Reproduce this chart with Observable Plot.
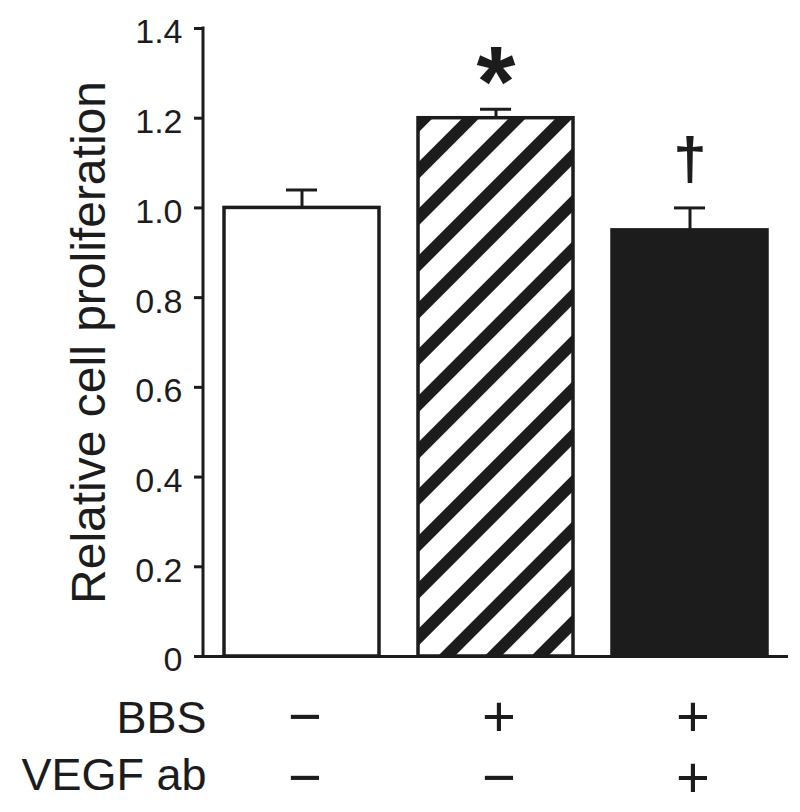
<!DOCTYPE html>
<html><head><meta charset="utf-8">
<script src="https://cdn.jsdelivr.net/npm/d3@7"></script>
<script src="https://cdn.jsdelivr.net/npm/@observablehq/plot@0.6"></script>
<style>html,body{margin:0;padding:0;background:#fff;}</style>
</head><body><div id="chart"></div>
<script>
// ---- data ----
const categories = ["Control", "BBS", "BBS + VEGF ab"];
const values = [1.0, 1.2, 0.95];
const errors = [0.04, 0.02, 0.05];
const sigMarks = ["", "*", "\u2020"];
const yTicks = [0, 0.2, 0.4, 0.6, 0.8, 1.0, 1.2, 1.4];
const yTickLabels = ["0", "0.2", "0.4", "0.6", "0.8", "1.0", "1.2", "1.4"];
const yLabel = "Relative cell proliferation";
const rowLabels = ["BBS", "VEGF ab"];
const bbsSigns = ["\u2212", "+", "+"];
const vegfSigns = ["\u2212", "\u2212", "+"];

// ---- styles ----
const ink = "#1c1c1c";
const barFills = ["white", "url(#hatch)", ink];
const font = "'Liberation Sans', Arial, Helvetica, sans-serif";

const idx = d3.range(categories.length);
const xOf = i => categories[i];
const topOf = i => values[i] + errors[i];

const hatchDefs = () => {
  const defs = d3.create("svg:defs");
  const p = defs.append("pattern").attr("id", "hatch")
    .attr("patternUnits", "userSpaceOnUse")
    .attr("width", 33).attr("height", 33)
    .attr("patternTransform", "rotate(45) translate(14.5 0)");
  p.append("rect").attr("width", 33).attr("height", 33).attr("fill", "white");
  p.append("rect").attr("width", 12).attr("height", 33).attr("fill", ink);
  return defs.node();
};

const yAxisLine = (index, scales, vals, dims) => {
  const x = dims.marginLeft;
  return d3.create("svg:path")
    .attr("d", `M${x},${scales.y(yTicks[0])}V${scales.y(yTicks[yTicks.length - 1])}`)
    .attr("stroke", ink).attr("stroke-width", 3).attr("stroke-linecap", "square")
    .attr("fill", "none").node();
};

const chart = Plot.plot({
  width: 800, height: 812,
  marginLeft: 203, marginRight: 12, marginTop: 28, marginBottom: 156,
  style: {fontFamily: font, color: ink, background: "white", overflow: "visible"},
  x: {type: "band", domain: categories, paddingInner: 0.2, paddingOuter: 0.103, axis: null},
  y: {domain: [0, 1.4]},
  color: {type: "identity"},
  marks: [
    hatchDefs,
    Plot.barY(idx, {x: xOf, y: i => values[i], fill: i => barFills[i], stroke: ink, strokeWidth: 3.5}),
    Plot.ruleX(idx, {x: xOf, y1: i => values[i], y2: topOf, stroke: ink, strokeWidth: 3}),
    Plot.tickY(idx, {x: xOf, y: topOf, stroke: ink, strokeWidth: 3, insetLeft: 62, insetRight: 62}),
    Plot.ruleY([0], {stroke: ink, strokeWidth: 3}),
    yAxisLine,
    Plot.axisY({ticks: yTicks, tickSize: 9, fill: "none", stroke: ink, strokeWidth: 3, label: null, tickFormat: () => ""}),
    Plot.axisY({ticks: yTicks, tickSize: 0, tickPadding: 21, tickFormat: d => yTickLabels[yTicks.indexOf(d)],
      fontSize: 34, dy: 4, fill: ink, label: null}),
    Plot.text([yLabel], {frameAnchor: "left", textAnchor: "middle", lineAnchor: "middle", rotate: -90, dx: -114, fontSize: 48, fill: ink}),
    Plot.text(idx, {filter: i => sigMarks[i] === "*", x: xOf, y: topOf, text: i => sigMarks[i],
      fontSize: 100, fontWeight: "bold", dy: -25, fill: ink}),
    Plot.text(idx, {filter: i => sigMarks[i] === "\u2020", x: xOf, y: topOf, text: i => sigMarks[i],
      fontSize: 60, fontWeight: "bold", dy: -48, fill: ink}),
    Plot.text(idx, {x: xOf, frameAnchor: "bottom", text: i => bbsSigns[i], dy: 79, dx: 3, fontSize: 58, fill: ink}),
    Plot.text(idx, {x: xOf, frameAnchor: "bottom", text: i => vegfSigns[i], dy: 140, dx: 3, fontSize: 58, fill: ink}),
    Plot.text([rowLabels[0]], {frameAnchor: "bottom-left", textAnchor: "end", dx: 3, dy: 76, fontSize: 45, fill: ink}),
    Plot.text([rowLabels[1]], {frameAnchor: "bottom-left", textAnchor: "end", dx: 3, dy: 133, fontSize: 45, fill: ink})
  ]
});
document.getElementById("chart").appendChild(chart);
</script>
</body></html>
